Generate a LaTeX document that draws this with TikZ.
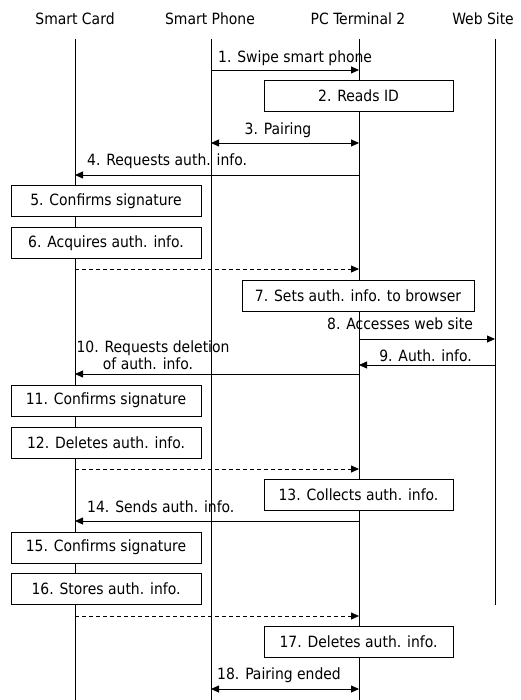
\documentclass[tikz,border=0pt]{standalone}
\usepackage{fontspec}
\setmainfont{DejaVu Sans Condensed}
\usetikzlibrary{arrows.meta}
\begin{document}
\begin{tikzpicture}[x=1pt,y=-1pt,
  every node/.style={font=\fontsize{15.5}{17}\selectfont, inner sep=0pt},
  lifeline/.style={line width=0.8pt},
  msg/.style={line width=0.8pt, -{Triangle[length=8pt,width=7pt]}},
  twoway/.style={line width=0.8pt, {Triangle[length=8pt,width=7pt]}-{Triangle[length=8pt,width=7pt]}},
  reply/.style={msg, dash pattern=on 4pt off 3pt},
  actbox/.style={draw, fill=white, line width=0.8pt, minimum height=31pt},
  cardbox/.style={actbox, minimum width=190pt},
  pcbox/.style={actbox, minimum width=189pt},
  lbl/.style={anchor=base west},
  lblr/.style={anchor=base east}]
\useasboundingbox (0,0) rectangle (520,700);

% participants
\node[anchor=base] (hSC) at (75,25) {Smart Card};
\node[anchor=base] (hSP) at (210,25) {Smart Phone};
\node[anchor=base] (hPC) at (358,25) {PC Terminal 2};
\node[anchor=base east] (hWS) at (514,25) {Web Site};

% lifelines
\coordinate (scT) at (75,39);  \coordinate (scB) at (75,700);
\coordinate (spT) at (211,39); \coordinate (spB) at (211,700);
\coordinate (pcT) at (359,39); \coordinate (pcB) at (359,700);
\coordinate (wsT) at (495,39); \coordinate (wsB) at (495,605);
\draw[lifeline] (scT) -- (scB);
\draw[lifeline] (spT) -- (spB);
\draw[lifeline] (pcT) -- (pcB);
\draw[lifeline] (wsT) -- (wsB);

% activity boxes
\node[pcbox] (b2) at (358.5,95.5) {2. Reads ID};
\node[cardbox] (b5) at (106,201) {5. Confirms signature};
\node[cardbox] (b6) at (106,243) {6. Acquires auth. info.};
\node[actbox, minimum width=232pt] (b7) at (358,295.5) {7. Sets auth. info. to browser};
\node[cardbox] (b11) at (106,400.5) {11. Confirms signature};
\node[cardbox] (b12) at (106,442.5) {12. Deletes auth. info.};
\node[pcbox] (b13) at (358.5,494.5) {13. Collects auth. info.};
\node[cardbox] (b15) at (106,547.5) {15. Confirms signature};
\node[cardbox] (b16) at (106,589) {16. Stores auth. info.};
\node[pcbox] (b17) at (358.5,641.5) {17. Deletes auth. info.};

% message end points
\coordinate (m1a) at (211,70);   \coordinate (m1b) at (359,70);
\coordinate (m3a) at (211,143);  \coordinate (m3b) at (359,143);
\coordinate (m4a) at (359,175);  \coordinate (m4b) at (75,175);
\coordinate (r6a) at (75,269);   \coordinate (r6b) at (359,269);
\coordinate (m8a) at (359,339);  \coordinate (m8b) at (495,339);
\coordinate (m9a) at (495,365);  \coordinate (m9b) at (359,365);
\coordinate (m10a) at (359,374); \coordinate (m10b) at (75,374);
\coordinate (r12a) at (75,469);  \coordinate (r12b) at (359,469);
\coordinate (m14a) at (359,521); \coordinate (m14b) at (75,521);
\coordinate (r16a) at (75,616);  \coordinate (r16b) at (359,616);
\coordinate (m18a) at (211,689); \coordinate (m18b) at (359,689);

% messages
\draw[msg] (m1a) -- (m1b);
\draw[twoway] (m3a) -- (m3b);
\draw[msg] (m4a) -- (m4b);
\draw[reply] (r6a) -- (r6b);
\draw[msg] (m8a) -- (m8b);
\draw[msg] (m9a) -- (m9b);
\draw[msg] (m10a) -- (m10b);
\draw[reply] (r12a) -- (r12b);
\draw[msg] (m14a) -- (m14b);
\draw[reply] (r16a) -- (r16b);
\draw[twoway] (m18a) -- (m18b);

% message labels
\node[lbl] (t1) at (218,63) {1. Swipe smart phone};
\node[anchor=base] (t3) at (278,135) {3. Pairing};
\node[lbl] (t4) at (87,166) {4. Requests auth. info.};
\node[lblr] (t8) at (473,329) {8. Accesses web site};
\node[lblr] (t9) at (472,361) {9. Auth. info.};
\node[anchor=base] (t10a) at (153,352) {10. Requests deletion};
\node[anchor=base] (t10b) at (148,369) {of auth. info.};
\node[lbl] (t14) at (87,512) {14. Sends auth. info.};
\node[lbl] (t18) at (217,679) {18. Pairing ended};
\end{tikzpicture}
\end{document}
